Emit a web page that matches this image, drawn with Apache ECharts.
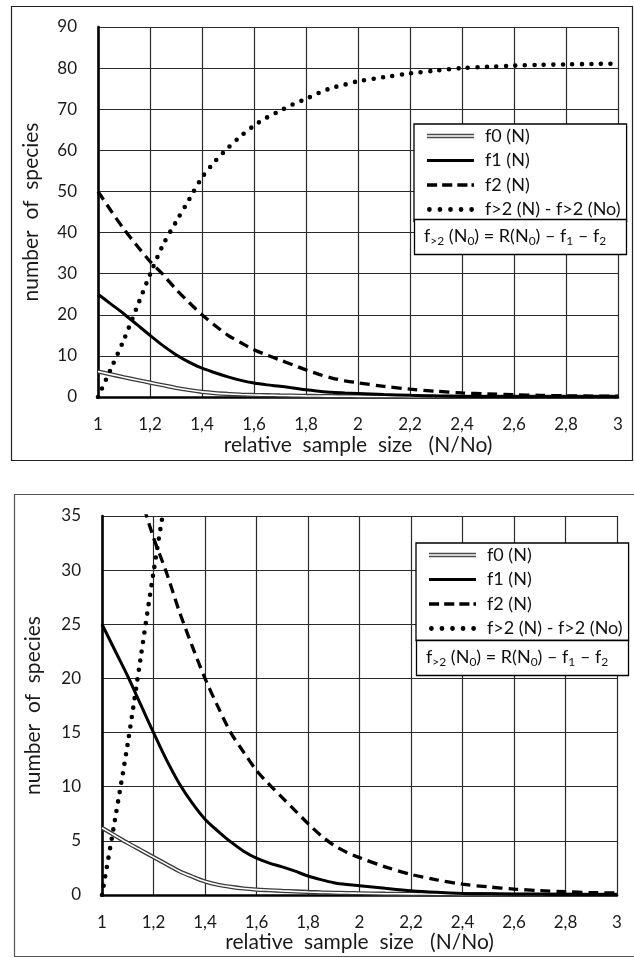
<!DOCTYPE html>
<html><head><meta charset="utf-8">
<script src="https://cdn.jsdelivr.net/npm/echarts@6/dist/echarts.min.js"></script>
<style>html,body{margin:0;padding:0;background:#fff}#c{width:634px;height:958px}</style>
</head><body><div id="c"></div>
<script>
// ---- data ----
const xs   = [1.00,1.05,1.10,1.15,1.20,1.25,1.30,1.35,1.40,1.45,1.50,1.55,1.60,1.65,1.70,1.75,1.80,1.85,1.90,1.95,2.00,2.1,2.2,2.3,2.4,2.5,2.6,2.7,2.8,2.9,3.0];
const f0   = [6.2,5.5,4.8,4.15,3.5,2.85,2.2,1.7,1.25,0.95,0.75,0.6,0.5,0.44,0.38,0.33,0.28,0.24,0.21,0.18,0.16,0.12,0.1,0.08,0.06,0.05,0.04,0.03,0.03,0.02,0.02];
const f1   = [25,22.6,20.2,17.6,15.0,12.5,10.3,8.5,7.0,5.9,4.9,4.05,3.4,2.95,2.6,2.2,1.75,1.42,1.14,0.97,0.86,0.62,0.4,0.25,0.15,0.11,0.08,0.06,0.05,0.04,0.04];
const f2   = [50,45.3,40.8,36.8,33.0,29.8,26.2,23.0,20.0,17.4,15.0,13.2,11.5,10.2,9.0,7.8,6.6,5.5,4.6,3.95,3.45,2.6,1.9,1.4,1.0,0.75,0.55,0.4,0.3,0.22,0.18];
const fgt2 = [0,6.9,14.0,21.9,29.8,37.0,42.6,48.0,53.4,57.3,60.6,63.5,66.0,68.0,69.6,71.2,72.5,74.0,75.2,76.0,76.8,77.8,78.7,79.4,80.0,80.3,80.6,80.8,80.9,81.0,81.1];
const xTickLabels = ['1','1,2','1,4','1,6','1,8','2','2,2','2,4','2,6','2,8','3'];
const xMin = 1, xMax = 3, xStep = 0.2;
const yTopMax = 90, yTopStep = 10;
const yBotMax = 35, yBotStep = 5;
const seriesNames = ['f0 (N)','f1 (N)','f2 (N)','f>2 (N) - f>2 (No)'];
const xName = 'relative  sample  size   (N/No)';
const yName = 'number  of  species';
const formula = '{m|f}{s|>2}{m| (N}{s|0}{m|) = R(N}{s|0}{m|) \u2013 f}{s|1}{m| \u2013 f}{s|2}';

// ---- build ----
const FONT = 'Lato';
const pairs = arr => xs.map((x,i)=>[x, arr[i]]);
const grids = [
  {left:98, top:27, width:520, height:370, outerBoundsMode:'none'},
  {left:102, top:516, width:515, height:379, outerBoundsMode:'none'}
];
const yMaxes = [yTopMax, yBotMax], ySteps = [yTopStep, yBotStep];
const gridLine = {show:true, lineStyle:{color:'#2a2a2a', width:1.2}};
const axisLine = {show:true, onZero:false, lineStyle:{color:'#000', width:2.6}};
const labelStyle = {fontFamily:FONT, fontSize:17, color:'#1a1a1a'};
const nameStyle = {fontFamily:FONT, fontSize:21, color:'#1a1a1a'};
const xAxes = [0,1].map(g=>({
  type:'value', gridIndex:g, min:xMin, max:xMax, interval:xStep,
  axisLine, axisTick:{show:false}, splitLine:gridLine,
  axisLabel:Object.assign({margin:19, showMinLabel:true, showMaxLabel:true,
    formatter:v=>xTickLabels[Math.round((v-xMin)/xStep)]}, labelStyle),
  name:xName, nameLocation:'middle', nameGap:g===0?38:27,
  nameTextStyle:nameStyle
}));
const yAxes = [0,1].map(g=>({
  type:'value', gridIndex:g, min:0, max:yMaxes[g], interval:ySteps[g],
  axisLine, axisTick:{show:false}, splitLine:gridLine,
  axisLabel:Object.assign({margin:21, showMinLabel:true, showMaxLabel:true}, labelStyle),
  name:yName, nameLocation:'middle', nameGap:g===0?56:58,
  nameTextStyle:nameStyle
}));
const base = g => ({type:'line', xAxisIndex:g, yAxisIndex:g, smooth:0.3, symbol:'none', showSymbol:false,
  silent:true, emphasis:{disabled:true}, animation:false});
const series = [];
[0,1].forEach(g=>{
  series.push(Object.assign(base(g), {name:seriesNames[0], data:pairs(f0), color:'#3a3a3a', z:3,
    lineStyle:{color:'#3a3a3a', width:4.2}}));
  series.push(Object.assign(base(g), {name:'f0 inner', data:pairs(f0), color:'#fff', z:4,
    lineStyle:{color:'#fff', width:1.6}}));
  series.push(Object.assign(base(g), {name:seriesNames[1], data:pairs(f1), color:'#000', z:5,
    lineStyle:{color:'#000', width:3}}));
  series.push(Object.assign(base(g), {name:seriesNames[2], data:pairs(f2), color:'#000', z:5,
    lineStyle:{color:'#000', width:3.3, type:[10,6]}}));
  series.push(Object.assign(base(g), {name:seriesNames[3], data:pairs(fgt2), color:'#000', z:5,
    lineStyle:{color:'#000', width:4.6, type:[0,9.5], cap:'round'}}));
});
function dotsPath(){
  let p=''; const r=2.2;
  for(let k=0;k<5;k++){const cx=r+k*9.7; p+=`M${cx-r},${r}a${r},${r} 0 1,0 ${2*r},0a${r},${r} 0 1,0 ${-2*r},0Z`;}
  return 'path://'+p;
}
const legendData = [
  {name:seriesNames[0], icon:'path://M0,0H47V4.4H0ZM0,1.4V3H47V1.4Z', itemStyle:{color:'#4a4a4a', borderWidth:0}},
  {name:seriesNames[1], icon:'path://M0,0H47V3.2H0Z', itemStyle:{color:'#000', borderWidth:0}},
  {name:seriesNames[2], icon:'path://M0,0H10V3.4H0ZM15,0H25V3.4H15ZM30,0H40V3.4H30ZM44,0H46.5V3.4H44Z', itemStyle:{color:'#000', borderWidth:0}},
  {name:seriesNames[3], icon:dotsPath(), itemStyle:{color:'#000', borderWidth:0}}
];
const legendPos = [{left:414, top:124}, {left:416, top:543}];
const legends = legendPos.map(p=>({
  orient:'vertical', left:p.left, top:p.top, itemWidth:47, itemHeight:14, itemGap:6.5,
  padding:[3,6,3,13], backgroundColor:'#fff', borderColor:'#000', borderWidth:1.3, borderRadius:0,
  selectedMode:false, data:legendData,
  textStyle:{fontFamily:FONT, fontSize:18, lineHeight:16, color:'#111', padding:[0,0,0,6]}
}));
const titlePos = [{left:414, top:217}, {left:416, top:638}];
const titles = titlePos.map(p=>({
  left:p.left, top:p.top, text:formula, padding:[8,20,8,10],
  backgroundColor:'#fff', borderColor:'#000', borderWidth:1.3,
  textStyle:{fontWeight:'normal', rich:{
    m:{fontFamily:FONT, fontSize:18, fontWeight:'normal', color:'#111', lineHeight:22},
    s:{fontFamily:FONT, fontSize:12, fontWeight:'normal', color:'#111', verticalAlign:'bottom', lineHeight:22}
  }}
}));
const chart = echarts.init(document.getElementById('c'), null, {renderer:'canvas'});
chart.setOption({
  animation:false,
  backgroundColor:'#fff',
  grid:grids, xAxis:xAxes, yAxis:yAxes, series,
  legend:legends, title:titles,
  graphic:[
    {type:'rect', silent:true, z:-10, shape:{x:11.5, y:6.5, width:621, height:454}, style:{fill:null, stroke:'#222', lineWidth:1.2}},
    {type:'rect', silent:true, z:-10, shape:{x:14.5, y:494.5, width:640, height:462}, style:{fill:null, stroke:'#555', lineWidth:1.2}}
  ]
});
</script></body></html>
